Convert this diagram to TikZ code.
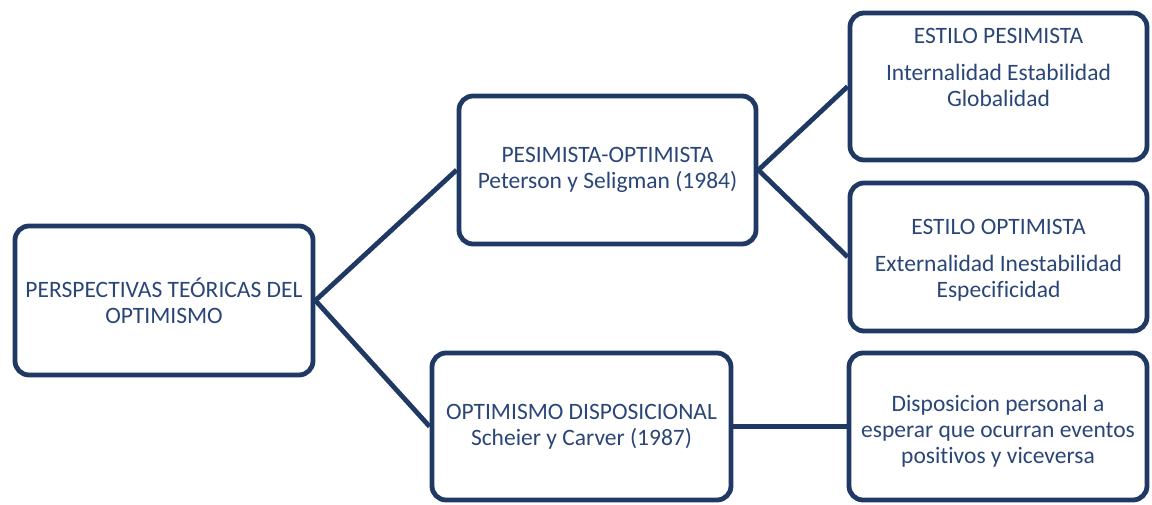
\documentclass[tikz,border=0pt]{standalone}
\usepackage{fontspec}
\setmainfont[Ligatures={NoCommon,NoRare}]{Carlito}
\usetikzlibrary{backgrounds}
\definecolor{edge}{RGB}{31,56,100}
\definecolor{ink}{RGB}{42,70,120}
\begin{document}
\begin{tikzpicture}[x=1pt,y=-1pt,
  box/.style={draw=edge, line width=4.8pt, rounded corners=14pt, fill=white,
              inner sep=0pt, text=ink, align=center,
              font=\fontsize{23.5}{25.8}\selectfont},
  label/.style={text=ink, align=center, inner sep=0pt,
              font=\fontsize{23.5}{25.8}\selectfont},
  link/.style={draw=edge, line width=4.8pt}]
\useasboundingbox (0,0) rectangle (1152,504);

% boxes
\node[box, minimum width=298pt, minimum height=149pt] (root) at (164,300.5)
  {PERSPECTIVAS TEÓRICAS DEL\\OPTIMISMO};
\node[box, minimum width=297pt, minimum height=148pt] (pesopt) at (607.5,170)
  {PESIMISTA-OPTIMISTA\\Peterson y Seligman (1984)};
\node[box, minimum width=297pt, minimum height=147pt] (estpes) at (998.5,86.5) {};
\node[box, minimum width=297pt, minimum height=148pt] (estopt) at (998.5,257) {};
\node[box, minimum width=299pt, minimum height=147pt] (disp) at (581.5,426.5)
  {OPTIMISMO DISPOSICIONAL\\Scheier y Carver (1987)};
\node[box, minimum width=298pt, minimum height=147pt] (desc) at (998,426.5) {};

% texts placed inside the right-hand boxes
\node[label, anchor=north] (estpesT) at (998.5,28.5)
  {ESTILO PESIMISTA\\[11pt]Internalidad Estabilidad\\Globalidad};
\node[label, anchor=north] (estoptT) at (998.5,219)
  {ESTILO OPTIMISTA\\[11pt]Externalidad Inestabilidad\\Especificidad};
\node[label] (descT) at (998,431)
  {Disposicion personal a\\esperar que ocurran eventos\\positivos y viceversa};

% connectors
\begin{scope}[on background layer]
  \draw[link] (root.east) -- (pesopt.west);
  \draw[link] (root.east) -- (disp.west);
  \draw[link] (pesopt.east) -- (estpes.west);
  \draw[link] (pesopt.east) -- (estopt.west);
  \draw[link] (disp.east) -- (desc.west);
\end{scope}
\end{tikzpicture}
\end{document}
